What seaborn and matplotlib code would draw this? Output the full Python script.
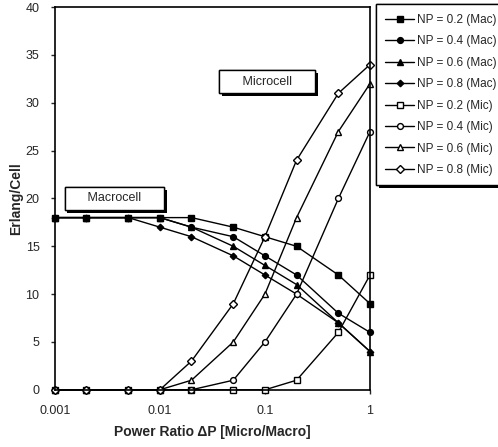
import matplotlib
matplotlib.use("Agg")
import matplotlib.pyplot as plt
import matplotlib.patheffects as pe
import seaborn as sns

# === data ===
power_ratio = [0.001, 0.002, 0.005, 0.01, 0.02, 0.05, 0.1, 0.2, 0.5, 1]

mac_02 = [18, 18, 18, 18, 18, 17, 16, 15, 12, 9]
mac_04 = [18, 18, 18, 18, 17, 16, 14, 12, 8, 6]
mac_06 = [18, 18, 18, 18, 17, 15, 13, 11, 7, 4]
mac_08 = [18, 18, 18, 17, 16, 14, 12, 10, 7, 4]

mic_02 = [0, 0, 0, 0, 0, 0, 0, 1, 6, 12]
mic_04 = [0, 0, 0, 0, 0, 1, 5, 10, 20, 27]
mic_06 = [0, 0, 0, 0, 1, 5, 10, 18, 27, 32]
mic_08 = [0, 0, 0, 0, 3, 9, 16, 24, 31, 34]

labels = ["NP = 0.2 (Mac)", "NP = 0.4 (Mac)", "NP = 0.6 (Mac)", "NP = 0.8 (Mac)",
          "NP = 0.2 (Mic)", "NP = 0.4 (Mic)", "NP = 0.6 (Mic)", "NP = 0.8 (Mic)"]
series = [mac_02, mac_04, mac_06, mac_08, mic_02, mic_04, mic_06, mic_08]

x_ticks = [0.001, 0.01, 0.1, 1]
x_tick_labels = ["0.001", "0.01", "0.1", "1"]
y_ticks = [0, 5, 10, 15, 20, 25, 30, 35, 40]

# marker, size, filled
marker_style = [("s", 4.8, True), ("o", 4.2, True), ("^", 5, True), ("D", 3.3, True),
                ("s", 4.8, False), ("o", 4.2, False), ("^", 5, False), ("D", 3.8, False)]

# === style ===
sns.set_style("ticks")
plt.rcParams["font.family"] = ["Liberation Sans", "DejaVu Sans"]

fig = plt.figure(figsize=(4.98, 4.47), dpi=100)
ax = fig.add_axes([0.110, 0.128, 0.633, 0.856])

for vals, lab, (mk, ms, filled) in zip(series, labels, marker_style):
    sns.lineplot(x=power_ratio, y=vals, ax=ax, color="black", linewidth=1.0,
                 marker=mk, markersize=ms, markeredgecolor="black",
                 markerfacecolor="black" if filled else "white",
                 markeredgewidth=1.0, label=lab, clip_on=False)

ax.set_xscale("log")
ax.set_xlim(0.001, 1)
ax.set_ylim(0, 40)
ax.set_xticks(x_ticks)
ax.set_xticklabels(x_tick_labels)
ax.minorticks_off()
ax.set_yticks(y_ticks)
ax.tick_params(axis="both", labelsize=9, length=3, width=1, pad=8)

for side in ["left", "bottom", "right", "top"]:
    ax.spines[side].set_visible(True)
    ax.spines[side].set_linewidth(1.2)
    ax.spines[side].set_color("black")

ax.set_xlabel("Power Ratio \u0394P [Micro/Macro]", fontsize=10, fontweight="bold", labelpad=6)
ax.set_ylabel("Erlang/Cell", fontsize=10, fontweight="bold")
ax.yaxis.set_label_coords(-0.10, 0.5)

# === boxed annotations ===
for txt, xy in [("Macrocell", (0.0037, 20)), ("Microcell", (0.105, 32.2))]:
    t = ax.text(xy[0], xy[1], " " * 5 + txt + " " * 5, ha="center", va="center", fontsize=9,
                bbox=dict(boxstyle="square,pad=0.45", fc="white", ec="black", lw=1.0))
    t.get_bbox_patch().set_path_effects(
        [pe.withSimplePatchShadow(offset=(2, -2), shadow_rgbFace="black", alpha=1.0), pe.Normal()])

# === legend ===
leg = ax.legend(loc="upper left", bbox_to_anchor=(0.755, 0.99), bbox_transform=fig.transFigure,
                fontsize=8.5, frameon=True, fancybox=False, handlelength=2.4,
                handletextpad=0.3, borderpad=0.8, labelspacing=0.8, borderaxespad=0)
leg.get_frame().set_edgecolor("black")
leg.get_frame().set_linewidth(1.0)
leg.get_frame().set_alpha(1)
leg.get_frame().set_path_effects(
    [pe.withSimplePatchShadow(offset=(2, -2), shadow_rgbFace="black", alpha=1.0), pe.Normal()])

plt.savefig("out.png", dpi=100)
